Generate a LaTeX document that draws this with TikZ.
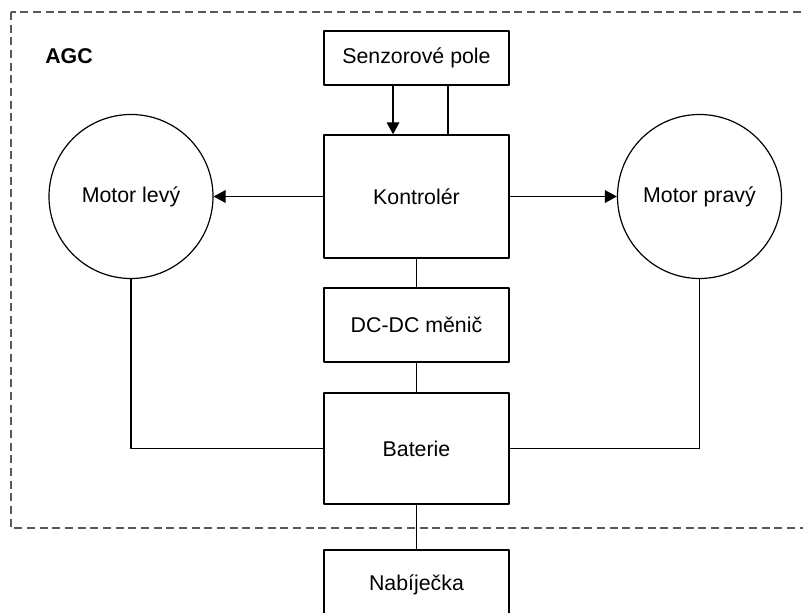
\documentclass[tikz,border=0pt]{standalone}
\usepackage{fontspec}
\setmainfont{Liberation Sans}
\usetikzlibrary{arrows.meta,positioning}
\tikzset{
  blok/.style={rectangle, draw, line width=1.1pt, minimum width=138.75pt, inner sep=0pt, font=\fontsize{16}{19}\selectfont},
  motor/.style={circle, draw, line width=0.9pt, minimum size=123pt, inner sep=0pt, font=\fontsize{16}{19}\selectfont},
  spoj/.style={line width=1.1pt},
  sipka/.style={spoj, -{Triangle[length=9pt,width=9.5pt]}},
  every picture/.style={line join=round}
}
\begin{document}
\begin{tikzpicture}[x=0.75pt, y=-0.75pt]
    \useasboundingbox (0,0) rectangle (803,613);
    \draw[black!65, line width=0.9pt, dash pattern=on 6pt off 3.5pt] (11,12) rectangle (840,528);
    \node[font=\bfseries\fontsize{16}{19}\selectfont, anchor=west, inner sep=0pt] (agc) at (45,56) {AGC};

    \node[blok, minimum height=40.5pt] (senzor) at (416.5,58) {Senzorové pole};
    \node[blok, minimum height=92.25pt] (kontroler) at (416.5,196.5) {Kontrolér};
    \node[blok, minimum height=55.5pt] (menic) at (416.5,325) {DC-DC měnič};
    \node[blok, minimum height=83.25pt] (baterie) at (416.5,448.5) {Baterie};
    \node[blok, minimum height=52.5pt] (nabijecka) at (416.5,585) {Nabíječka};

    \node[motor] (motorL) at (131,196.5) {Motor levý};
    \node[motor] (motorP) at (699.5,196.5) {Motor pravý};

    \draw[sipka] ([xshift=-17.6pt]senzor.south) -- ([xshift=-17.6pt]kontroler.north);
    \draw[spoj] ([xshift=23.6pt]senzor.south) -- ([xshift=23.6pt]kontroler.north);
    \draw[sipka] (kontroler.west) -- (motorL.east);
    \draw[sipka] (kontroler.east) -- (motorP.west);

    \draw[spoj] (kontroler)--(menic);
    \draw[spoj] (menic)--(baterie);
    \draw[spoj] (baterie)--(nabijecka);

    \draw[spoj] (motorL.south) |- (baterie.west);
    \draw[spoj] (motorP.south) |- (baterie.east);
  \end{tikzpicture}
\end{document}
